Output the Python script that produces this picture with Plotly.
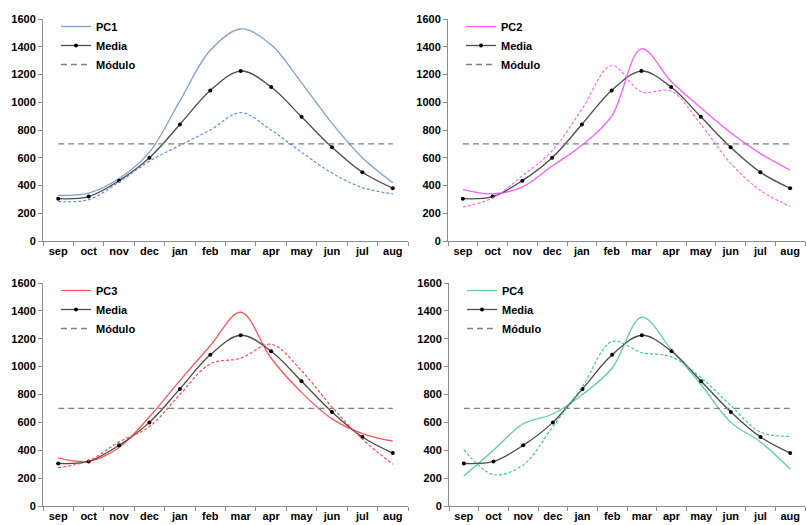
import plotly.graph_objects as go

months = ["sep", "oct", "nov", "dec", "jan", "feb", "mar", "apr", "may", "jun", "jul", "aug"]
media = [305, 320, 435, 600, 840, 1085, 1225, 1110, 895, 675, 495, 380]
modulo = [700] * 12

pc1 = [328, 345, 450, 640, 1010, 1375, 1528, 1415, 1140, 850, 600, 420]
pc1_mod = [285, 298, 425, 575, 690, 800, 925, 800, 640, 490, 385, 340]
pc2 = [370, 340, 390, 540, 690, 900, 1385, 1150, 960, 780, 630, 510]
pc2_mod = [245, 310, 470, 650, 950, 1265, 1075, 1080, 840, 560, 365, 250]
pc3 = [345, 320, 420, 640, 900, 1150, 1390, 1060, 815, 625, 520, 465]
pc3_mod = [275, 325, 460, 570, 800, 1020, 1060, 1160, 970, 710, 480, 300]
pc4 = [215, 400, 590, 660, 800, 990, 1355, 1120, 870, 600, 460, 265]
pc4_mod = [405, 225, 295, 570, 860, 1180, 1100, 1070, 920, 720, 530, 500]

panels = [
    ("PC1", pc1, pc1_mod, "#7f9fcf", "#5a90e0"),
    ("PC2", pc2, pc2_mod, "#ff5cff", "#ff66ff"),
    ("PC3", pc3, pc3_mod, "#ff5555", "#ff4a4a"),
    ("PC4", pc4, pc4_mod, "#5fcf98", "#45c985"),
]

W, H = 807, 525
# plot areas in pixels: (x0, x1, ytop, ybottom)
areas = [
    (43, 408, 19, 241),
    (448, 805, 19, 241),
    (43, 408, 283, 506),
    (449, 805, 283, 506),
]

fig = go.Figure()
font = dict(family="Liberation Sans, Arial, sans-serif", size=11, color="#000000")
bfont = dict(family="Liberation Sans, Arial, sans-serif", size=11, color="#000000", weight="bold")

for i, ((name, sol, mod, c1, c2), (x0, x1, yt, yb)) in enumerate(zip(panels, areas)):
    k = "" if i == 0 else str(i + 1)
    xa, ya = "x" + k, "y" + k
    lg = "legend" + k
    fig.add_trace(go.Scatter(x=months, y=sol, mode="lines", name=name,
                             line=dict(color=c1, width=1.3, shape="spline"),
                             xaxis=xa, yaxis=ya, legend=lg))
    fig.add_trace(go.Scatter(x=months, y=media, mode="lines+markers", name="Media",
                             line=dict(color="#4a4a4a", width=1.3, shape="spline"),
                             marker=dict(color="#000000", size=4),
                             xaxis=xa, yaxis=ya, legend=lg))
    fig.add_trace(go.Scatter(x=months, y=modulo, mode="lines", name="Módulo",
                             line=dict(color="#7f7f7f", width=1.3, dash="6px,4px"),
                             xaxis=xa, yaxis=ya, legend=lg))
    fig.add_trace(go.Scatter(x=months, y=mod, mode="lines", showlegend=False,
                             line=dict(color=c2, width=1.2, dash="3px,2px", shape="spline"),
                             xaxis=xa, yaxis=ya))
    axcommon = dict(showline=True, linecolor="#8c8c8c", linewidth=1, ticks="outside",
                    tickcolor="#8c8c8c", ticklen=4, showgrid=False, zeroline=False,
                    tickfont=bfont, automargin=False)
    fig.layout["xaxis" + k] = dict(domain=[x0 / W, min(x1 / W, 1.0)], anchor=ya,
                                  type="category", categoryorder="array", categoryarray=months,
                                  range=[-0.5, 11.5], tickson="boundaries", tickangle=0,
                                  **axcommon)
    fig.layout["yaxis" + k] = dict(domain=[1 - yb / H, 1 - yt / H], anchor=xa,
                                  range=[0, 1600], tickvals=list(range(0, 1601, 200)),
                                  **axcommon)
    fig.layout[lg] = dict(x=(x0 + 13) / W, y=1 - (yt - 7) / H, xanchor="left", yanchor="top",
                          bgcolor="rgba(0,0,0,0)", font=bfont, itemwidth=30,
                          tracegroupgap=0)

fig.update_layout(width=W, height=H, autosize=False, margin=dict(l=0, r=0, t=0, b=0, pad=0),
                  paper_bgcolor="white", plot_bgcolor="white", font=font)
fig.write_html("out.html", config={"displayModeBar": False},
               post_script="document.body.style.margin='0';document.body.style.overflow='hidden';")
